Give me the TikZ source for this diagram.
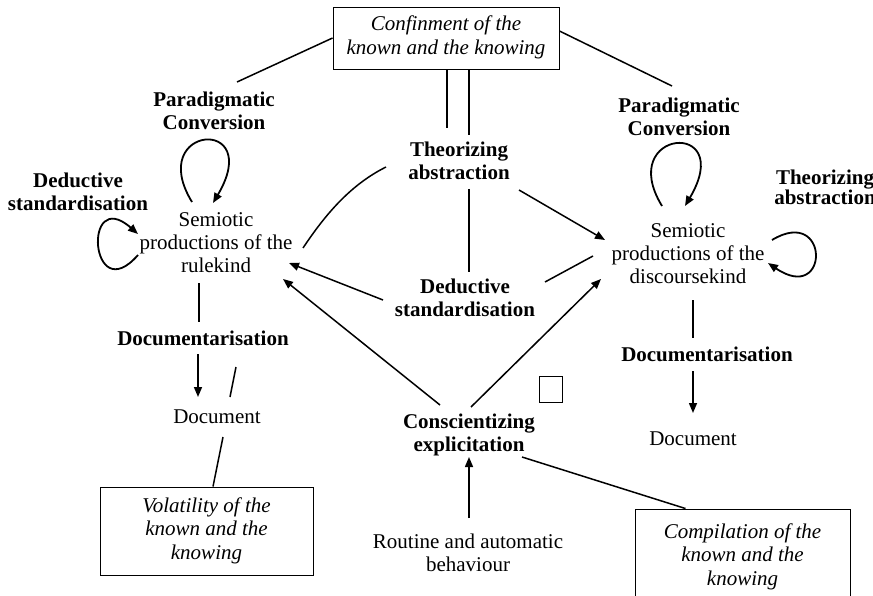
\documentclass[tikz,border=0pt]{standalone}
\usepackage{fontspec}
\setmainfont{Liberation Serif}
\usetikzlibrary{arrows.meta}

% stacked, centred lines whose baseline is that of the first line
\newcommand\mylines[1]{\begin{tabular}[t]{@{}c@{}}#1\end{tabular}}

\begin{document}
\begin{tikzpicture}[x=1pt,y=-1pt,
  lbl/.style={inner sep=0pt, anchor=base, font=\fontsize{21}{23}\selectfont},
  act/.style={inner sep=0pt, anchor=base, font=\fontsize{21}{23}\selectfont\bfseries},
  framed/.style={draw, line width=0.9pt, inner sep=0pt,
                 font=\fontsize{21}{23.5}\selectfont\itshape},
  conn/.style={line width=1.5pt},
  arr/.style={conn, -{Triangle[length=10pt,width=8pt]}},
  loop/.style={line width=1.8pt, -{Triangle[length=10pt,width=8pt]}}]

\useasboundingbox (0,0) rectangle (873,596);

% boxed states
\node[framed, minimum width=226pt, minimum height=62pt] (conf) at (446,38)
  {\mylines{Confinment of the\\known and the knowing}};
\node[framed, minimum width=213pt, minimum height=88pt] (vol) at (206.5,531)
  {\mylines{Volatility of the\\known and the\\knowing}};
\node[framed, minimum width=215pt, minimum height=96pt] (comp) at (742.5,557)
  {\mylines{Compilation of the\\known and the\\knowing}};

% semiotic productions and documents
\node[lbl] (semL) at (216,227) {\mylines{Semiotic\\productions of the\\rulekind}};
\node[lbl] (semR) at (688,238) {\mylines{Semiotic\\productions of the\\discoursekind}};
\node[lbl] (documentL) at (217,423) {Document};
\node[lbl] (documentR) at (693,445) {Document};
\node[lbl] (routine) at (468,548) {\mylines{Routine and automatic\\behaviour}};

% processes
\node[act] (theo) at (459,157) {\mylines{Theorizing\\abstraction}};
\node[act] (dedC) at (465,293) {\mylines{Deductive\\standardisation}};
\node[act] (consc) at (469,428) {\mylines{Conscientizing\\explicitation}};
\node[act] (parL) at (214,107) {\mylines{Paradigmatic\\Conversion}};
\node[act] (parR) at (679,113) {\mylines{Paradigmatic\\Conversion}};
\node[act] (dedL) at (78,188) {\mylines{Deductive\\standardisation}};
\node[inner sep=0pt, anchor=base, font=\fontsize{21}{17}\selectfont\bfseries]
  (theoR) at (825,185) {\mylines{Theorizing\\abstraction}};
\node[lbl] (docL) at (203,345) {\textbf{Documentarisation}};
\node[lbl] (docR) at (707,361) {\textbf{Documentarisation}};

% small empty square
\node[draw, line width=1.6pt, inner sep=0pt, minimum width=23pt, minimum height=26pt]
  (sq) at (551,389.5) {};

% links from the confinment box
\draw[conn] (conf.west) -- ([shift={(23,-25)}]parL.base);
\draw[conn] ([shift={(0,-7)}]conf.east) -- ([shift={(-7,-27)}]parR.base);
\draw[conn] ([shift={(1,0)}]conf.south) -- ([shift={(-12,-29)}]theo.base);
\draw[conn] ([shift={(23,0)}]conf.south) -- ([shift={(10,-22)}]theo.base);

% theorizing abstraction
\draw[conn] ([shift={(-73,10)}]theo.base)
  .. controls +(-36,18) and +(22,-33) .. ([shift={(87,21)}]semL.base);
\draw[arr] ([shift={(60,33)}]theo.base) -- ([shift={(-83,2)}]semR.base);
\draw[conn] ([shift={(10,32)}]theo.base) -- ([shift={(4,-21)}]dedC.base);

% deductive standardisation
\draw[arr] ([shift={(-82,7)}]dedC.base) -- ([shift={(73,36)}]semL.base);
\draw[conn] ([shift={(80,-11)}]dedC.base) -- ([shift={(-95,18)}]semR.base);

% conscientizing explicitation
\draw[arr] ([shift={(-29,-23)}]consc.base) -- ([shift={(67,52)}]semL.base);
\draw[arr] ([shift={(2,-21)}]consc.base) -- ([shift={(-87,41)}]semR.base);
\draw[arr] ([shift={(1,-30)}]routine.base) -- ([shift={(0,29)}]consc.base);
\draw[conn] ([shift={(53,29)}]consc.base) -- ([shift={(51,0)}]comp.north west);

% self loops
\draw[loop] ([shift={(-24,-25)}]semL.base)
  .. controls +(-47,-77) and +(52,-88) .. ([shift={(-3,-24)}]semL.base);
\draw[loop] ([shift={(-78,28)}]semL.base)
  .. controls +(-48,55) and +(-56,-49) .. ([shift={(-78,7)}]semL.base);
\draw[loop] ([shift={(-26,-32)}]semR.base)
  .. controls +(-47,-77) and +(52,-88) .. ([shift={(-3,-32)}]semR.base);
\draw[loop] ([shift={(84,2)}]semR.base)
  .. controls +(58,-35) and +(62,42) .. ([shift={(80,25)}]semR.base);

% documentarisation, left
\draw[conn] ([shift={(-17,56)}]semL.base) -- ([shift={(-4,-23)}]docL.base);
\draw[arr] ([shift={(-5,9)}]docL.base) -- ([shift={(-19,-26)}]documentL.base);
\draw[conn] ([shift={(33,22)}]docL.base) -- ([shift={(13,-26)}]documentL.base);
\draw[conn] ([shift={(6,14)}]documentL.base) -- ([shift={(6.5,0)}]vol.north);

% documentarisation, right
\draw[conn] ([shift={(5,62)}]semR.base) -- ([shift={(-14,-23)}]docR.base);
\draw[arr] ([shift={(-14,10)}]docR.base) -- ([shift={(0,-32)}]documentR.base);

\end{tikzpicture}
\end{document}
